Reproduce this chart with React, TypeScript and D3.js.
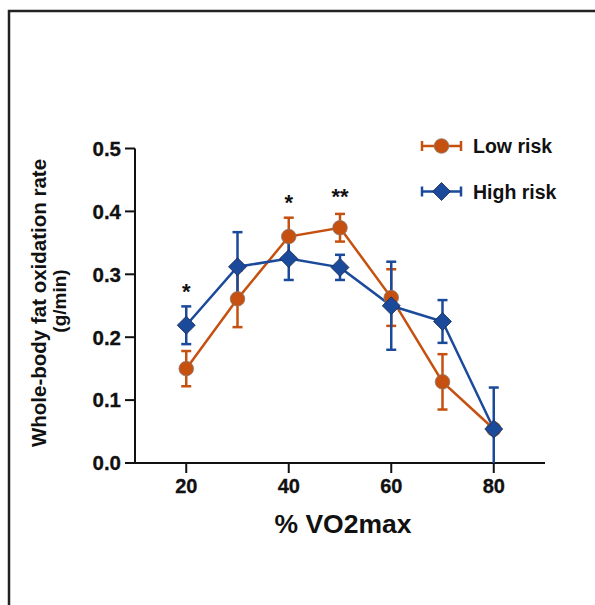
import React from "react";
import * as d3 from "d3";

const xValues = [20, 30, 40, 50, 60, 70, 80];
const lowRisk = [0.15, 0.261, 0.36, 0.374, 0.263, 0.129, 0.054];
const lowRiskErr = [0.028, 0.045, 0.03, 0.022, 0.045, 0.044, 0.0];
const highRisk = [0.219, 0.312, 0.325, 0.311, 0.25, 0.225, 0.054];
const highRiskErr = [0.03, 0.055, 0.034, 0.02, 0.07, 0.034, 0.066];
const xTicks = [20, 40, 60, 80];
const yTicks = [0, 0.1, 0.2, 0.3, 0.4, 0.5];
const significance = [
  { x: 20, label: "*", value: 0.248 },
  { x: 40, label: "*", value: 0.39 },
  { x: 50, label: "**", value: 0.399 },
];

const ORANGE = "#C5500F";
const BLUE = "#1B4A9B";
const FONT = "'Liberation Sans', Arial, sans-serif";

export default function App() {
  const x = d3.scaleLinear().domain([10, 90]).range([135, 545]);
  const y = d3.scaleLinear().domain([0, 0.5]).range([463, 148.5]);
  const line = d3
    .line<number>()
    .x((_, i) => x(xValues[i]))
    .y((d) => y(d));

  const series = [
    { name: "Low risk", vals: lowRisk, err: lowRiskErr, color: ORANGE, shape: "circle" },
    { name: "High risk", vals: highRisk, err: highRiskErr, color: BLUE, shape: "diamond" },
  ];

  const capW = 5;

  const marker = (shape: string, cx: number, cy: number, color: string, key: any) =>
    shape === "circle" ? (
      <circle key={key} cx={cx} cy={cy} r={7.3} fill={color} stroke="#8a7a70" strokeWidth={0.8} />
    ) : (
      <path
        key={key}
        d={`M${cx},${cy - 9}L${cx + 9},${cy}L${cx},${cy + 9}L${cx - 9},${cy}Z`}
        fill={color}
        stroke="#1a2a50"
        strokeWidth={0.8}
      />
    );

  return (
    <div style={{ position: "absolute", left: 0, top: 0 }}>
      <svg width={595} height={605} style={{ display: "block", background: "#fff" }}>
        <rect x={9} y={11} width={620} height={640} fill="none" stroke="#222" strokeWidth={2.5} />

        {/* axes */}
        <g stroke="#111" strokeWidth={2} fill="none">
          <line x1={x(10)} x2={x(10)} y1={y(0.5)} y2={y(0) + 1} />
          <line x1={x(10) - 1} x2={x(90)} y1={y(0)} y2={y(0)} />
          {yTicks.map((t) => (
            <line key={t} x1={x(10) - 10} x2={x(10)} y1={y(t)} y2={y(t)} />
          ))}
          {xTicks.map((t) => (
            <line key={t} x1={x(t)} x2={x(t)} y1={y(0)} y2={y(0) + 10} />
          ))}
        </g>
        <g fontFamily={FONT} fontWeight="bold" fill="#111" stroke="#111" strokeWidth={0.3}>
          {yTicks.map((t) => (
            <text key={t} x={x(10) - 14} y={y(t)} dy="0.36em" textAnchor="end" fontSize={20.5}>
              {d3.format(".1f")(t)}
            </text>
          ))}
          {xTicks.map((t) => (
            <text key={t} x={x(t)} y={y(0) + 30} textAnchor="middle" fontSize={20}>
              {t}
            </text>
          ))}
        </g>
        <text
          x={343}
          y={533}
          textAnchor="middle"
          fontFamily={FONT}
          fontWeight="bold"
          fontSize={26.5}
          fill="#111"
        >
          % VO2max
        </text>
        <g fontFamily={FONT} fontWeight="bold" fontSize={20.5} fill="#111" textAnchor="middle">
          <text transform={`translate(46,303) rotate(-90)`}>Whole-body fat oxidation rate</text>
          <text transform={`translate(66,301) rotate(-90)`} fontSize={19}>
            (g/min)
          </text>
        </g>

        {/* series: error bars, lines, markers */}
        {series.map((s) => (
          <g key={s.name}>
            <g stroke={s.color} strokeWidth={2.5}>
              {s.vals.map((v, i) => {
                if (s.err[i] <= 0) return null;
                const cx = x(xValues[i]);
                const top = y(v + s.err[i]);
                const bot = y(Math.max(0, v - s.err[i]));
                return (
                  <g key={i}>
                    <line x1={cx} x2={cx} y1={top} y2={bot} />
                    <line x1={cx - capW} x2={cx + capW} y1={top} y2={top} />
                    {v - s.err[i] > 0 && <line x1={cx - capW} x2={cx + capW} y1={bot} y2={bot} />}
                  </g>
                );
              })}
            </g>
            <path d={line(s.vals) || ""} fill="none" stroke={s.color} strokeWidth={2.5} />
          </g>
        ))}
        {series.map((s) => (
          <g key={s.name + "m"}>{s.vals.map((v, i) => marker(s.shape, x(xValues[i]), y(v), s.color, i))}</g>
        ))}

        {/* significance */}
        <g fontFamily={FONT} fontWeight="bold" fontSize={22} fill="#111" textAnchor="middle">
          {significance.map((d) => (
            <text key={d.x} x={x(d.x)} y={y(d.value) - 8}>
              {d.label}
            </text>
          ))}
        </g>

        {/* legend */}
        {series.map((s, i) => {
          const ly = 146 + i * 45.5;
          return (
            <g key={s.name + "l"}>
              <g stroke={s.color} strokeWidth={2.5}>
                <line x1={422} x2={461} y1={ly} y2={ly} />
                <line x1={422} x2={422} y1={ly - 5} y2={ly + 5} />
                <line x1={461} x2={461} y1={ly - 5} y2={ly + 5} />
              </g>
              {marker(s.shape, 441.5, ly, s.color, "m")}
              <text
                x={473}
                y={ly}
                dy="0.36em"
                fontFamily={FONT}
                fontWeight="bold"
                fontSize={19.5}
                fill="#111"
              >
                {s.name}
              </text>
            </g>
          );
        })}
      </svg>
    </div>
  );
}
